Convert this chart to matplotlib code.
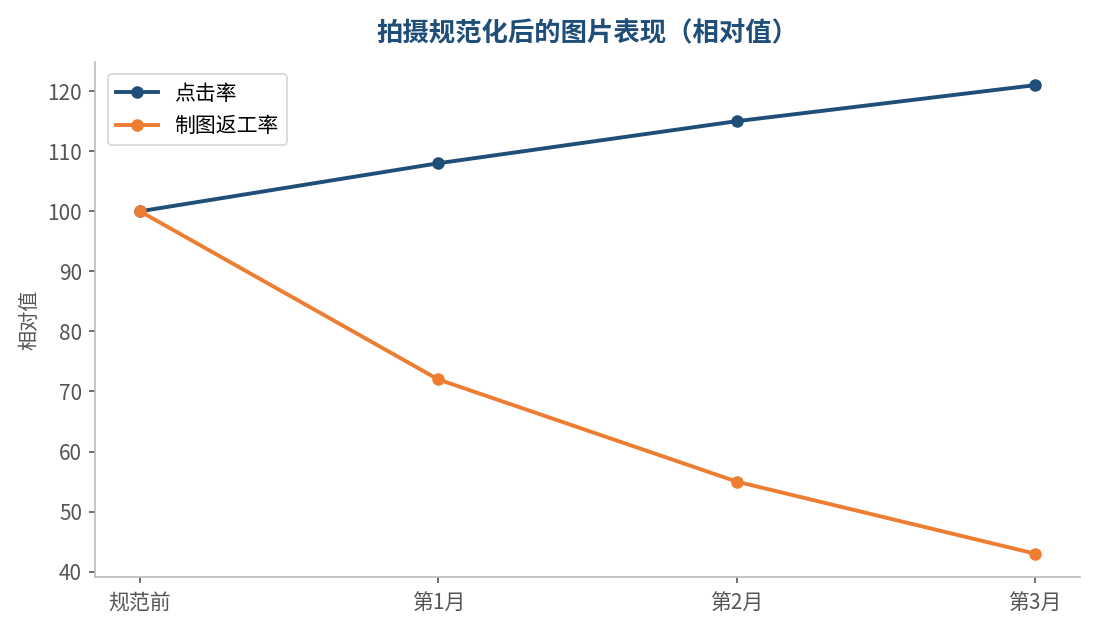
import matplotlib
matplotlib.use("Agg")
import matplotlib.pyplot as plt

plt.rcParams['font.family'] = ['Noto Sans CJK SC', 'DejaVu Sans']

categories = ["规范前", "第1月", "第2月", "第3月"]
ctr = [100, 108, 115, 121]
rework = [100, 72, 55, 43]

blue = "#1f4e79"
orange = "#ed7d31"

fig = plt.figure(figsize=(10.95, 6.3), dpi=100)
ax = fig.add_axes([0.087, 0.084, 0.899, 0.818])

x = list(range(len(categories)))
ax.plot(x, ctr, color=blue, lw=2.8, marker='o', ms=8, label="点击率")
ax.plot(x, rework, color=orange, lw=2.8, marker='o', ms=8, label="制图返工率")

ax.set_xticks(x)
ax.set_xticklabels(categories)
ax.set_ylabel("相对值", fontsize=14.5, color="#555555", labelpad=5)
ax.set_title("拍摄规范化后的图片表现（相对值）", fontsize=19, fontweight='bold', color=blue, pad=15)

for s in ['top', 'right']:
    ax.spines[s].set_visible(False)
for s in ['left', 'bottom']:
    ax.spines[s].set_color("#bbbbbb")
    ax.spines[s].set_linewidth(1.2)
ax.tick_params(colors="#555555", labelsize=15, length=4.5, width=1.2)
ax.tick_params(axis='x', pad=7)
ax.tick_params(axis='y', pad=5)

leg = ax.legend(loc='upper left', fontsize=15, frameon=True, borderaxespad=0.6)
leg.get_frame().set_edgecolor("#cccccc")
leg.get_frame().set_linewidth(1.2)

fig.savefig("out.png", dpi=100)
